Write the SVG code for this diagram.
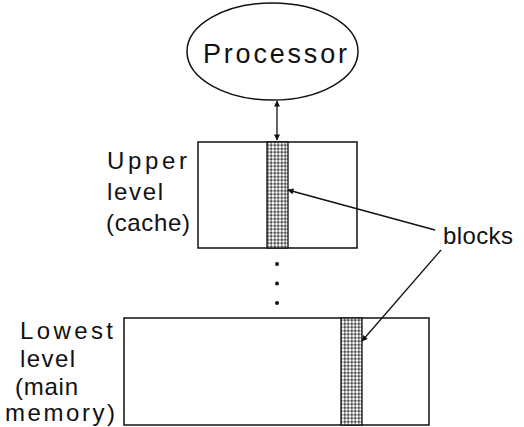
<svg xmlns="http://www.w3.org/2000/svg" width="524" height="427" viewBox="0 0 524 427">
  <style>
    .shape { fill: none; stroke: #111; stroke-width: 1.5; }
    .lbl { font-family: "Liberation Sans", Arial, sans-serif; font-size: 24px; fill: #111; }
    .big { font-size: 27px; }
    .conn { fill: none; stroke: #111; stroke-width: 1.3; }
    .strip { fill: url(#grid); stroke: #111; stroke-width: 1.3; }
  </style>
  <defs>
    <pattern id="grid" x="0" y="0" width="3.5" height="3.5" patternUnits="userSpaceOnUse">
      <rect width="3.5" height="3.5" fill="#fff"/>
      <path d="M1.75 0.3V3.2M0.3 1.75H3.2" stroke="#111" stroke-width="0.9"/>
    </pattern>
    <marker id="ah" viewBox="0 0 10 10" refX="9" refY="5" markerWidth="8" markerHeight="6" markerUnits="userSpaceOnUse" orient="auto-start-reverse">
      <path d="M0 0L10 5L0 10z" fill="#111"/>
    </marker>
  </defs>
  <rect width="524" height="427" fill="#fff"/>

  <g id="processor">
    <ellipse class="shape" cx="272.5" cy="51.5" rx="85.5" ry="48.5"/>
    <text class="lbl big" x="203" y="63" textLength="144" lengthAdjust="spacing">Processor</text>
  </g>

  <g id="upper-level">
    <rect class="shape" x="198" y="142" width="159" height="106"/>
    <rect class="strip" x="267" y="142" width="21" height="106"/>
    <text class="lbl" x="107" y="169" textLength="80" lengthAdjust="spacing">Upper</text>
    <text class="lbl" x="107" y="200" textLength="56" lengthAdjust="spacing">level</text>
    <text class="lbl" x="106" y="231" textLength="84" lengthAdjust="spacing">(cache)</text>
  </g>

  <g id="ellipsis">
    <circle cx="277" cy="264" r="2" fill="#111"/>
    <circle cx="277" cy="283.5" r="2" fill="#111"/>
    <circle cx="277" cy="303" r="2" fill="#111"/>
  </g>

  <g id="lowest-level">
    <rect class="shape" x="124" y="318" width="305" height="107"/>
    <rect class="strip" x="341" y="318" width="21" height="107"/>
    <text class="lbl" x="20" y="339" textLength="93" lengthAdjust="spacing">Lowest</text>
    <text class="lbl" x="20" y="367" textLength="55" lengthAdjust="spacing">level</text>
    <text class="lbl" x="15" y="395" textLength="63" lengthAdjust="spacing">(main</text>
    <text class="lbl" x="5" y="421" textLength="110" lengthAdjust="spacing">memory)</text>
  </g>

  <g id="blocks-label">
    <text class="lbl" x="443" y="244" textLength="70" lengthAdjust="spacing">blocks</text>
  </g>

  <g id="connectors">
    <line class="conn" x1="277" y1="101" x2="277" y2="140" marker-start="url(#ah)" marker-end="url(#ah)"/>
    <line class="conn" x1="435" y1="230" x2="288" y2="190" marker-end="url(#ah)"/>
    <line class="conn" x1="441" y1="250" x2="362" y2="341" marker-end="url(#ah)"/>
  </g>
</svg>
